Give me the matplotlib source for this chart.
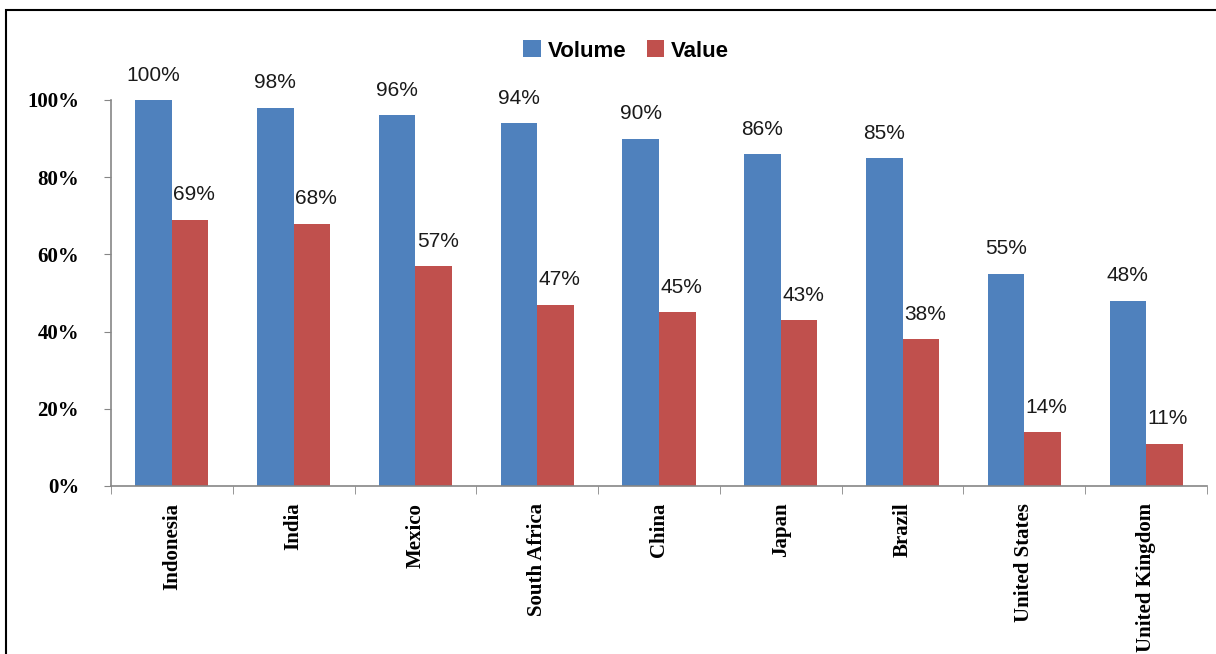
import numpy as np
import matplotlib.pyplot as plt
from matplotlib.patches import Rectangle
from matplotlib.ticker import FixedLocator, PercentFormatter

countries = ["Indonesia", "India", "Mexico", "South Africa", "China",
             "Japan", "Brazil", "United States", "United Kingdom"]
volume = [100, 98, 96, 94, 90, 86, 85, 55, 48]
value = [69, 68, 57, 47, 45, 43, 38, 14, 11]

blue = "#4F81BD"
red = "#C0504D"
axis_grey = "#868686"

fig = plt.figure(figsize=(12.16, 6.54), dpi=100)
ax = fig.add_axes([0.0913, 0.2569, 0.9013, 0.5902])

x = np.arange(len(countries))
w = 0.3
b1 = ax.bar(x - w / 2, volume, w, color=blue, label="Volume")
b2 = ax.bar(x + w / 2, value, w, color=red, label="Value")

label_font = dict(family="Liberation Sans", fontsize=15, color="#1a1a1a")
for rect, v in zip(b1, volume):
    ax.annotate(f"{v}%", (rect.get_x() + rect.get_width() / 2, v),
                xytext=(0, 11), textcoords="offset points",
                ha="center", va="bottom", **label_font)
for rect, v in zip(b2, value):
    ax.annotate(f"{v}%", (rect.get_x(), v),
                xytext=(1, 11), textcoords="offset points",
                ha="left", va="bottom", **label_font)

ax.set_xlim(-0.5, len(countries) - 0.5)
ax.set_ylim(0, 100)
ax.yaxis.set_major_locator(FixedLocator([0, 20, 40, 60, 80, 100]))
ax.yaxis.set_major_formatter(PercentFormatter(decimals=0))
ax.set_xticks(x)
ax.set_xticklabels(countries, rotation=90, va="top", ha="center")
ax.xaxis.set_minor_locator(FixedLocator(np.arange(-0.5, len(countries), 1.0)))

for lab in ax.get_xticklabels() + ax.get_yticklabels():
    lab.set_fontfamily("Liberation Serif")
    lab.set_fontweight("bold")
    lab.set_fontsize(15)

ax.tick_params(axis="x", which="major", length=0, pad=12)
ax.tick_params(axis="x", which="minor", length=6, color=axis_grey, direction="out")
ax.tick_params(axis="y", length=5, color=axis_grey, direction="out", pad=18)

for s in ["top", "right"]:
    ax.spines[s].set_visible(False)
for s in ["left", "bottom"]:
    ax.spines[s].set_color(axis_grey)
    ax.spines[s].set_linewidth(1.2)

leg = fig.legend(loc="center", bbox_to_anchor=(0.515, 0.922), ncol=2, frameon=False,
                 handlelength=0.8, handleheight=0.8, handletextpad=0.3,
                 columnspacing=0.9,
                 prop=dict(family="Liberation Sans", weight="bold", size=16))

# outer frame of the original chart box
fig.patches.append(Rectangle((6 / 1216, -0.1), 1.2, 0.1 + 1 - 10 / 654,
                             transform=fig.transFigure, fill=False,
                             edgecolor="black", linewidth=1.5))

fig.savefig("out.png", dpi=100)
